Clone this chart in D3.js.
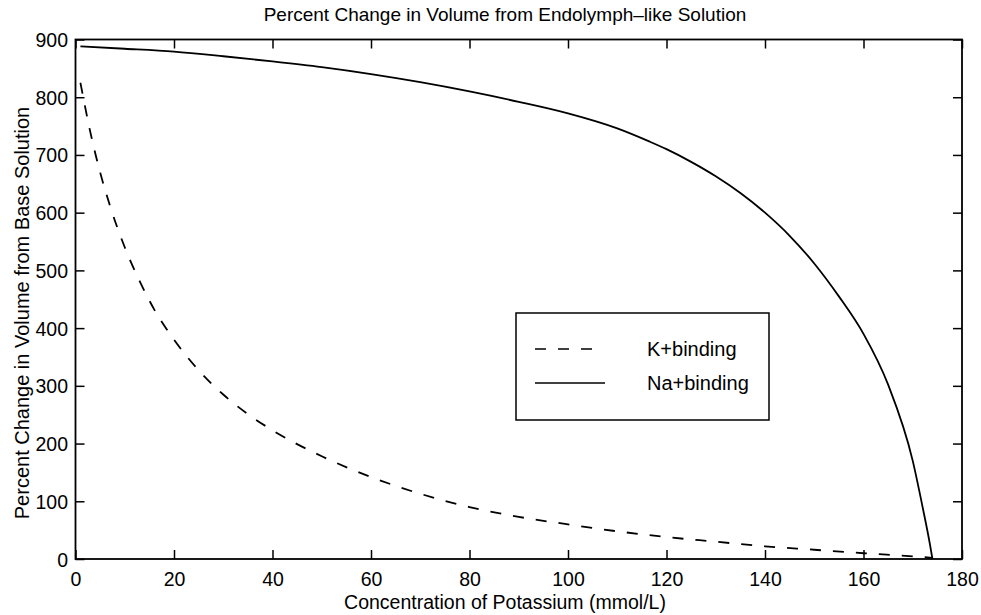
<!DOCTYPE html>
<html><head><meta charset="utf-8">
<script src="https://cdn.jsdelivr.net/npm/d3@7"></script>
<style>
body{margin:0;background:#fff;}
text{font-family:"Liberation Sans",Arial,Helvetica,sans-serif;fill:#000;}
</style></head>
<body><svg id="chart" width="981" height="615"></svg>
<script>
const title = "Percent Change in Volume from Endolymph\u2013like Solution";
const xLabel = "Concentration of Potassium (mmol/L)";
const yLabel = "Percent Change in Volume from Base Solution";
const xTicks = [0,20,40,60,80,100,120,140,160,180];
const yTicks = [0,100,200,300,400,500,600,700,800,900];
const seriesNames = ["K+binding","Na+binding"];

const kX = [1,3,5,7,10,13,16,20,25,30,35,40,45,50,60,70,80,90,100,110,120,130,140,150,160,170,174];
const kY = [825,740,670,612,540,482,432,380,327,285,251,223,199,178,142,113,90,73,60,48,38,30,22,16,10,4.5,2];

const naX = [1,10,20,30,40,50,60,70,80,90,100,110,116.6,120,125,130,135,140,145,150,155,160,165,170,172,173.5,174];
const naY = [888,884,879,871,862,852,840,826,810,792,772,746,723,710,688,663,634,600,560,512,455,390,302,170,90,25,0];

const svg = d3.select("#chart");
const L=75.5, R=962, T=39.5, B=559;
const x = d3.scaleLinear().domain([0,180]).range([L,R]);
const y = d3.scaleLinear().domain([0,900]).range([B,T]);
const tk = 9;
const fs = "19.5px";

const gB = svg.append("g").attr("transform",`translate(0,${B})`)
  .call(d3.axisBottom(x).tickValues(xTicks).tickSizeInner(-tk).tickSizeOuter(0).tickPadding(13));
const gT = svg.append("g").attr("transform",`translate(0,${T})`)
  .call(d3.axisTop(x).tickValues(xTicks).tickSizeInner(-tk).tickSizeOuter(0).tickFormat(""));
const gL = svg.append("g").attr("transform",`translate(${L},0)`)
  .call(d3.axisLeft(y).tickValues(yTicks).tickSizeInner(-tk).tickSizeOuter(0).tickPadding(7.5));
const gR = svg.append("g").attr("transform",`translate(${R},0)`)
  .call(d3.axisRight(y).tickValues(yTicks).tickSizeInner(-tk).tickSizeOuter(0).tickFormat(""));
[gB,gT,gL,gR].forEach(g=>{
  g.select(".domain").remove();
  g.selectAll(".tick line").attr("stroke","#000").attr("stroke-width",1.5);
  g.selectAll("text").style("font-size",fs).attr("fill","#000");
});
gL.selectAll(".tick text").attr("dy","0.36em");

svg.append("rect").attr("x",L).attr("y",T).attr("width",R-L).attr("height",B-T)
  .attr("fill","none").attr("stroke","#000").attr("stroke-width",1.8);

const line = d3.line().x(d=>x(d[0])).y(d=>y(d[1])).curve(d3.curveMonotoneX);
const kData = kX.map((v,i)=>[v,kY[i]]);
const naData = naX.map((v,i)=>[v,naY[i]]);
svg.append("path").datum(kData).attr("d",line).attr("fill","none")
  .attr("stroke","#000").attr("stroke-width",1.8).attr("stroke-dasharray","11,12");
svg.append("path").datum(naData).attr("d",line).attr("fill","none")
  .attr("stroke","#000").attr("stroke-width",1.8);

const lg = svg.append("g");
lg.append("rect").attr("x",516).attr("y",313).attr("width",253).attr("height",107)
  .attr("fill","#fff").attr("stroke","#000").attr("stroke-width",1.5);
const rows=[{y:349,dash:"11,12",name:seriesNames[0],x2:593},{y:383,dash:null,name:seriesNames[1],x2:605}];
rows.forEach(r=>{
  lg.append("line").attr("x1",535).attr("x2",r.x2).attr("y1",r.y).attr("y2",r.y)
    .attr("stroke","#000").attr("stroke-width",1.5).attr("stroke-dasharray",r.dash);
  lg.append("text").attr("x",647).attr("y",r.y).attr("dy","0.36em").style("font-size","20px").text(r.name);
});

svg.append("text").attr("x",505).attr("y",21).attr("text-anchor","middle")
  .style("font-size","19px").text(title);
svg.append("text").attr("x",505).attr("y",609).attr("text-anchor","middle")
  .style("font-size",fs).text(xLabel);
svg.append("text").attr("transform",`translate(29,313) rotate(-90)`).attr("text-anchor","middle")
  .style("font-size","20px").text(yLabel);
</script></body></html>
